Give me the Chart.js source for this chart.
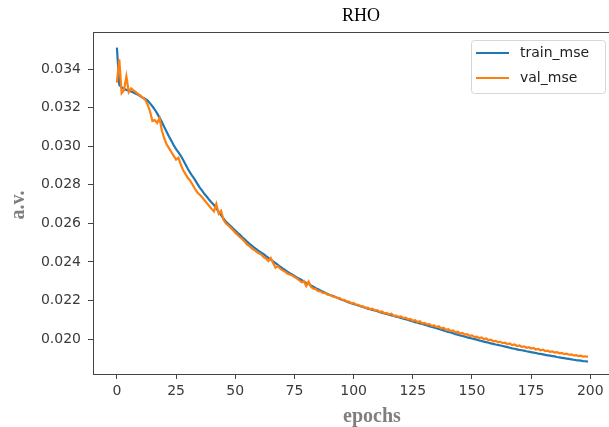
<!DOCTYPE html>
<html>
<head>
<meta charset="utf-8">
<script src="https://cdn.jsdelivr.net/npm/chart.js@4.4.1/dist/chart.umd.min.js"></script>
<style>
html,body{margin:0;padding:0;background:#fff;}
#wrap{width:609px;height:427px;position:relative;}
</style>
</head>
<body>
<div id="wrap"><canvas id="c" width="609" height="427"></canvas></div>
<script>
const chartTitle = "RHO";
const xLabel = "epochs";
const yLabel = "a.v.";
const seriesNames = ["train_mse", "val_mse"];
const xTicks = [0, 25, 50, 75, 100, 125, 150, 175, 200];
const yTicks = [0.020, 0.022, 0.024, 0.026, 0.028, 0.030, 0.032, 0.034];

const trainMse = [
0.03511,0.03318,0.03305,0.03298,0.03292,0.03288,0.03283,0.03278,0.03272,0.03266,
0.03258,0.03251,0.03245,0.03236,0.03222,0.03207,0.03190,0.03170,0.03148,0.03125,
0.03100,0.03075,0.03050,0.03028,0.03005,0.02985,0.02968,0.02950,0.02928,0.02905,
0.02882,0.02862,0.02843,0.02825,0.02805,0.02785,0.02770,0.02752,0.02738,0.02722,
0.02708,0.02695,0.02678,0.02660,0.02643,0.02625,0.02610,0.02598,0.02586,0.02574,
0.02563,0.02551,0.02540,0.02528,0.02517,0.02505,0.02494,0.02484,0.02474,0.02465,
0.02456,0.02448,0.02440,0.02430,0.02421,0.02412,0.02403,0.02394,0.02385,0.02375,
0.02366,0.02358,0.02350,0.02342,0.02335,0.02328,0.02320,0.02313,0.02306,0.02298,
0.02291,0.02285,0.02278,0.02271,0.02264,0.02258,0.02252,0.02246,0.02240,0.02234,
0.02229,0.02224,0.02219,0.02214,0.02209,0.02204,0.02200,0.02195,0.02190,0.02186,
0.02182,0.02178,0.02174,0.02170,0.02166,0.02162,0.02158,0.02155,0.02151,0.02148,
0.02144,0.02140,0.02137,0.02133,0.02130,0.02126,0.02123,0.02120,0.02116,0.02113,
0.02110,0.02106,0.02103,0.02099,0.02095,0.02092,0.02088,0.02085,0.02081,0.02078,
0.02074,0.02071,0.02067,0.02063,0.02060,0.02056,0.02052,0.02049,0.02045,0.02041,
0.02037,0.02034,0.02030,0.02026,0.02023,0.02019,0.02016,0.02013,0.02009,0.02006,
0.02003,0.02000,0.01997,0.01993,0.01990,0.01987,0.01984,0.01981,0.01978,0.01975,
0.01972,0.01970,0.01967,0.01964,0.01961,0.01958,0.01955,0.01952,0.01950,0.01947,
0.01944,0.01942,0.01940,0.01937,0.01935,0.01932,0.01930,0.01928,0.01925,0.01923,
0.01921,0.01918,0.01916,0.01914,0.01912,0.01910,0.01907,0.01905,0.01903,0.01901,
0.01899,0.01897,0.01895,0.01893,0.01891,0.01890,0.01888,0.01886,0.01885,0.01883
];

const valMse = [
0.03330,0.03450,0.03275,0.03290,0.03362,0.03280,0.03300,0.03290,0.03280,0.03270,
0.03262,0.03250,0.03240,0.03215,0.03180,0.03130,0.03135,0.03120,0.03145,0.03080,
0.03040,0.03010,0.02990,0.02970,0.02950,0.02930,0.02940,0.02905,0.02875,0.02855,
0.02835,0.02820,0.02800,0.02778,0.02760,0.02748,0.02735,0.02720,0.02705,0.02690,
0.02675,0.02662,0.02700,0.02650,0.02665,0.02620,0.02600,0.02590,0.02578,0.02565,
0.02552,0.02540,0.02528,0.02518,0.02505,0.02490,0.02482,0.02470,0.02462,0.02452,
0.02445,0.02438,0.02425,0.02418,0.02405,0.02420,0.02395,0.02370,0.02378,0.02365,
0.02356,0.02350,0.02340,0.02335,0.02330,0.02322,0.02315,0.02305,0.02295,0.02300,
0.02275,0.02298,0.02270,0.02262,0.02258,0.02250,0.02247,0.02239,0.02238,0.02230,
0.02229,0.02222,0.02220,0.02213,0.02214,0.02204,0.02203,0.02196,0.02194,0.02186,
0.02187,0.02178,0.02178,0.02170,0.02170,0.02162,0.02163,0.02155,0.02158,0.02148,
0.02150,0.02141,0.02143,0.02134,0.02136,0.02128,0.02131,0.02121,0.02122,0.02115,
0.02117,0.02109,0.02111,0.02102,0.02104,0.02095,0.02098,0.02088,0.02092,0.02082,
0.02084,0.02076,0.02078,0.02069,0.02071,0.02062,0.02066,0.02055,0.02059,0.02048,
0.02051,0.02042,0.02045,0.02035,0.02038,0.02029,0.02032,0.02023,0.02025,0.02017,
0.02019,0.02011,0.02013,0.02005,0.02008,0.02000,0.02003,0.01994,0.01997,0.01989,
0.01991,0.01984,0.01986,0.01979,0.01981,0.01974,0.01977,0.01969,0.01972,0.01964,
0.01967,0.01960,0.01962,0.01955,0.01958,0.01951,0.01954,0.01946,0.01949,0.01942,
0.01945,0.01938,0.01940,0.01934,0.01936,0.01930,0.01932,0.01926,0.01928,0.01922,
0.01924,0.01919,0.01921,0.01915,0.01917,0.01912,0.01914,0.01909,0.01911,0.01908
];

const epochs = trainMse.map((_, i) => i);
const colors = ["#1f77b4", "#ff7f0e"];

const toPts = arr => arr.map((v, i) => ({x: epochs[i], y: v}));

const decoPlugin = {
  id: 'deco',
  afterDraw(chart) {
    const ctx = chart.ctx;
    const a = chart.chartArea;
    ctx.save();
    ctx.strokeStyle = '#444';
    ctx.lineWidth = 1;
    ctx.beginPath();
    ctx.moveTo(a.left, a.top + 0.5);
    ctx.lineTo(a.right, a.top + 0.5);
    ctx.stroke();
    ctx.fillStyle = '#000';
    ctx.font = '18px "Liberation Serif", "Times New Roman", serif';
    ctx.textAlign = 'center';
    ctx.textBaseline = 'alphabetic';
    ctx.fillText(chartTitle, 361, 21);
    ctx.fillStyle = '#7f7f7f';
    ctx.font = 'bold 20px "Liberation Serif", "Times New Roman", serif';
    ctx.fillText(xLabel, 372, 422);
    ctx.save();
    ctx.translate(24, 205);
    ctx.rotate(-Math.PI / 2);
    ctx.fillText(yLabel, 0, 0);
    ctx.restore();
    const bx = 471.5, by = 40.5, bw = 134, bh = 53, r = 3;
    ctx.beginPath();
    ctx.moveTo(bx + r, by);
    ctx.lineTo(bx + bw - r, by);
    ctx.quadraticCurveTo(bx + bw, by, bx + bw, by + r);
    ctx.lineTo(bx + bw, by + bh - r);
    ctx.quadraticCurveTo(bx + bw, by + bh, bx + bw - r, by + bh);
    ctx.lineTo(bx + r, by + bh);
    ctx.quadraticCurveTo(bx, by + bh, bx, by + bh - r);
    ctx.lineTo(bx, by + r);
    ctx.quadraticCurveTo(bx, by, bx + r, by);
    ctx.closePath();
    ctx.fillStyle = 'rgba(255,255,255,0.85)';
    ctx.fill();
    ctx.strokeStyle = '#d6d6d6';
    ctx.lineWidth = 1;
    ctx.stroke();
    chart.data.datasets.forEach((ds, i) => {
      const y = 53 + i * 25;
      ctx.strokeStyle = ds.borderColor;
      ctx.lineWidth = 2;
      ctx.beginPath();
      ctx.moveTo(476, y);
      ctx.lineTo(509, y);
      ctx.stroke();
      ctx.fillStyle = '#222';
      ctx.font = '14px "DejaVu Sans", sans-serif';
      ctx.textAlign = 'left';
      ctx.textBaseline = 'middle';
      ctx.fillText(ds.label, 520, y);
    });
    ctx.restore();
  }
};

new Chart(document.getElementById('c'), {
  type: 'line',
  data: {
    datasets: [
      {label: seriesNames[0], data: toPts(trainMse), borderColor: colors[0], backgroundColor: colors[0], borderWidth: 2.2, pointRadius: 0, tension: 0, order: 1},
      {label: seriesNames[1], data: toPts(valMse), borderColor: colors[1], backgroundColor: colors[1], borderWidth: 2.2, pointRadius: 0, tension: 0, order: 0}
    ]
  },
  options: {
    responsive: false,
    animation: false,
    layout: {padding: {left: 0, top: 32, right: 0, bottom: 0}},
    plugins: {legend: {display: false}, title: {display: false}, tooltip: {enabled: false}},
    scales: {
      x: {
        type: 'linear',
        min: -10.1,
        max: 207.9,
        afterFit(s) { s.height = 53; },
        afterBuildTicks(s) { s.ticks = xTicks.map(v => ({value: v})); },
        grid: {display: true, drawOnChartArea: false, drawTicks: true, tickLength: 5, color: '#444'},
        border: {display: true, color: '#444', width: 1},
        ticks: {color: '#3a3a3a', font: {family: '"DejaVu Sans", sans-serif', size: 14}, padding: 4, maxRotation: 0, autoSkip: false,
          callback: v => String(v)}
      },
      y: {
        type: 'linear',
        min: 0.01819,
        max: 0.03592,
        afterFit(s) { s.width = 93; },
        afterBuildTicks(s) { s.ticks = yTicks.map(v => ({value: v})); },
        grid: {display: true, drawOnChartArea: false, drawTicks: true, tickLength: 5, color: '#444'},
        border: {display: true, color: '#444', width: 1},
        ticks: {color: '#3a3a3a', font: {family: '"DejaVu Sans", sans-serif', size: 14}, padding: 7, autoSkip: false,
          callback: v => Number(v).toFixed(3)}
      }
    }
  },
  plugins: [decoPlugin]
});
</script>
</body>
</html>
